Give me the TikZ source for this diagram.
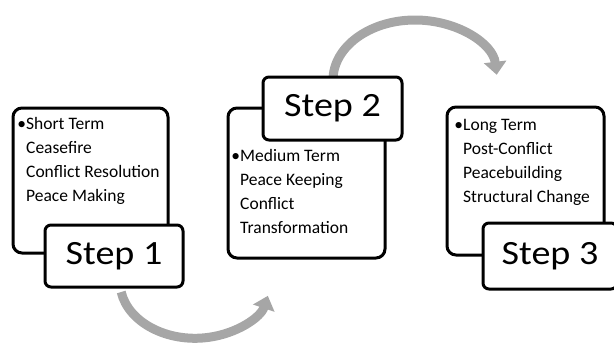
\documentclass[tikz,border=0pt]{standalone}
\usepackage{fontspec}
\setmainfont{Carlito}
\newfontfamily\stepfont[FakeStretch=1.12]{Carlito}
\usepackage{tikz}
\usetikzlibrary{positioning,arrows.meta}

\begin{document}
\begin{tikzpicture}[x=1pt,y=-1pt,
  bodybox/.style={draw,line width=3pt,rounded corners=9pt,fill=white},
  stepbox/.style={draw,line width=3pt,rounded corners=6pt,fill=white,font=\stepfont\fontsize{34}{34}\selectfont},
  bodytext/.style={anchor=north west,inner sep=0pt,align=left,font=\fontsize{17.5}{24}\selectfont},
  flow/.style={draw=black!35,line width=9pt,-{Triangle[width=22pt,length=13pt]}}]
\useasboundingbox (0,0) rectangle (614,343);
% curved arrows behind the boxes
\coordinate (a1) at (121.2,292);
\draw[flow] (a1) arc[start angle=170,end angle=14,x radius=75,y radius=56];
\coordinate (a2) at (333,80);
\draw[flow] (a2) arc[start angle=180,end angle=355,x radius=82,y radius=60];
% text boxes
\node[bodybox,minimum width=155pt,minimum height=145pt] (b1) at (90.5,180.5) {};
\node[bodybox,minimum width=157pt,minimum height=150pt] (b2) at (306.5,183) {};
\node[bodybox,minimum width=157pt,minimum height=148pt] (b3) at (525.5,181) {};
\node[bodytext] (t1) at (26,117) {\llap{\textbullet}Short Term\\Ceasefire\\Conflict Resolution\\Peace Making};
\node[bodytext] (t2) at (240,149) {\llap{\textbullet}Medium Term\\Peace Keeping\\Conflict\\Transformation};
\node[bodytext] (t3) at (463,119) {\llap{\textbullet}Long Term\\Post-Conflict\\Peacebuilding\\Structural Change};
% step labels
\node[stepbox,minimum width=138pt,minimum height=62pt] (s1) at (114,256) {Step 1};
\node[stepbox,minimum width=139pt,minimum height=63pt] (s2) at (332.5,108.5) {Step 2};
\node[stepbox,minimum width=134pt,minimum height=66pt] (s3) at (550,256) {Step 3};
\end{tikzpicture}
\end{document}
